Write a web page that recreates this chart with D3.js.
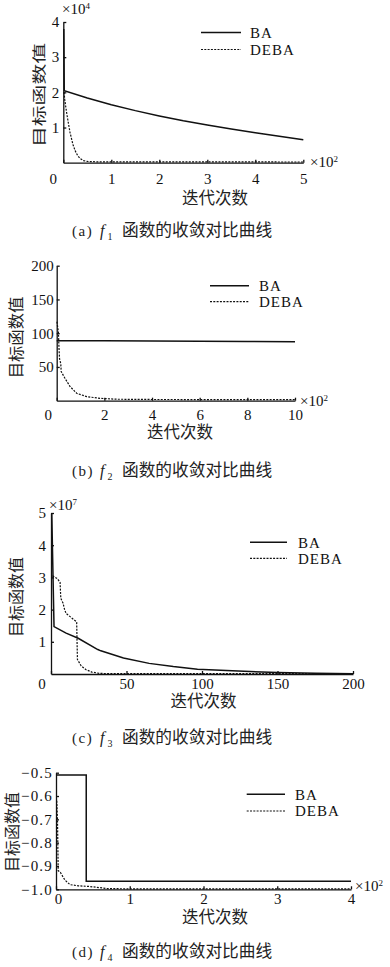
<!DOCTYPE html>
<html>
<head>
<meta charset="utf-8">
<script src="https://cdn.jsdelivr.net/npm/d3@7"></script>
<style>
  body { margin: 0; background: #fff; }
  svg { display: block; }
</style>
</head>
<body>
<svg id="chart" width="390" height="967"></svg>
<script>
// ---- data ----
// (a) f1, x in ×10^2 iterations, y in ×10^4
const f1XTicks = [0, 1, 2, 3, 4, 5];
const f1YTicks = [1, 2, 3, 4];
const f1BA = [[0.01, 3.8], [0.02, 2.05], [0.5, 1.84], [1, 1.65], [1.5, 1.48], [2, 1.33], [2.5, 1.19],
  [3, 1.07], [3.5, 0.96], [4, 0.85], [4.5, 0.75], [5, 0.65]];
const f1DEBA = [[0.015, 2.0], [0.03, 1.8], [0.05, 1.6], [0.07, 1.42], [0.1, 1.17], [0.14, 0.86],
  [0.2, 0.52], [0.25, 0.33], [0.3, 0.2], [0.35, 0.12], [0.42, 0.06], [0.5, 0.035], [0.7, 0.025], [5, 0.02]];

// (b) f2, x in ×10^2
const f2XTicks = [0, 2, 4, 6, 8, 10];
const f2YTicks = [50, 100, 150, 200];
const f2BA = [[0, 89], [2, 88.7], [4, 88.3], [6, 88], [8, 87.6], [10, 87.3]];
const f2DEBA = [[0.01, 117], [0.07, 102], [0.1, 75], [0.12, 62], [0.17, 55], [0.19, 43], [0.35, 33],
  [0.56, 21], [0.84, 11], [1.26, 6], [1.82, 3.5], [2.5, 2.2], [4, 1.8], [10, 1.5]];

// (c) f3, y in ×10^7
const f3XTicks = [0, 50, 100, 150, 200];
const f3YTicks = [1, 2, 3, 4, 5];
const f3BA = [[0.5, 5.0], [2, 1.47], [10, 1.27], [18, 1.11], [31, 0.76], [33, 0.72], [48, 0.5],
  [65, 0.33], [81, 0.23], [97, 0.15], [120, 0.1], [150, 0.045], [175, 0.02], [200, 0.01]];
const f3DEBA = [[1, 3.05], [4, 2.97], [6, 2.85], [6.5, 2.35], [8, 2.2], [9, 2.0], [10, 1.88],
  [17, 1.62], [17.5, 0.45], [20, 0.25], [23, 0.14], [27, 0.06], [32, 0.02], [40, 0.01], [200, 0.01]];

// (d) f4, x in ×10^2
const f4XTicks = [0, 1, 2, 3, 4];
const f4YTicks = [-0.5, -0.6, -0.7, -0.8, -0.9, -1.0];
const f4BA = [[0, -0.51], [0.41, -0.51], [0.41, -0.966], [4, -0.965]];
const f4DEBA = [[0.01, -0.62], [0.02, -0.7], [0.03, -0.92], [0.06, -0.928], [0.12, -0.96],
  [0.19, -0.98], [0.3, -0.985], [0.46, -0.988], [0.7, -0.997], [1, -0.998], [4, -0.998]];

const seriesNames = ['BA', 'DEBA'];
const captionText = '函数的收敛对比曲线';
const xTitle = '迭代次数';
const yTitle = '目标函数值';

const SERIF = '"Liberation Serif", "DejaVu Serif", serif';
const CJK = '"Noto Sans CJK SC", sans-serif';
const INK = '#111';

const svg = d3.select('#chart');

function panel(p) {
  const x = d3.scaleLinear().domain(p.xDomain).range(p.xRange);
  const y = d3.scaleLinear().domain(p.yDomain).range(p.yRange);
  const g = svg.append('g');

  // axes: left + bottom only, small inward ticks
  const ya = g.append('g')
    .attr('transform', `translate(${p.xRange[0]},0)`)
    .call(d3.axisLeft(y).tickValues(p.yTicks).tickFormat(p.yFmt)
      .tickSizeInner(-3).tickSizeOuter(0).tickPadding(p.yPad));
  const xa = g.append('g')
    .attr('transform', `translate(0,${p.yRange[0]})`)
    .call(d3.axisBottom(x).tickValues(p.xTicks).tickFormat(d3.format('d'))
      .tickSizeInner(-3).tickSizeOuter(0).tickPadding(0));

  [ya, xa].forEach(a => {
    a.attr('font-family', SERIF).attr('font-size', 15);
    a.selectAll('path, line').attr('stroke', INK).attr('stroke-width', 1.3);
    a.selectAll('text').attr('fill', INK);
  });
  ya.selectAll('text').attr('letter-spacing', p.yLabSpace || 0);
  xa.selectAll('text').attr('y', p.xLabOff).attr('dy', '0.35em')
    .attr('dx', d => (d === 0 ? p.zeroDx : 0));

  // series
  const line = d3.line().x(d => x(d[0])).y(d => y(d[1]));
  g.append('path').datum(p.ba).attr('d', line)
    .attr('fill', 'none').attr('stroke', INK).attr('stroke-width', 1.5);
  g.append('path').datum(p.deba).attr('d', line)
    .attr('fill', 'none').attr('stroke', INK).attr('stroke-width', 1.2)
    .attr('stroke-dasharray', '2,1.3');

  // legend
  const L = p.legend;
  seriesNames.forEach((name, i) => {
    const ly = L.y + i * L.gap;
    g.append('line').attr('x1', L.x1).attr('x2', L.x2).attr('y1', ly).attr('y2', ly)
      .attr('stroke', INK).attr('stroke-width', i ? 1.2 : 1.5)
      .attr('stroke-dasharray', i ? '2,1.3' : null);
    g.append('text').attr('x', L.tx).attr('y', ly).attr('dy', '0.35em')
      .attr('font-family', SERIF).attr('font-size', 15).attr('fill', INK)
      .attr('letter-spacing', 1).text(name);
  });

  // multipliers (×10^n)
  p.mult.forEach(m => {
    const t = g.append('text').attr('x', m.x).attr('y', m.y)
      .attr('font-family', SERIF).attr('font-size', 15).attr('fill', INK);
    t.append('tspan').text('×10');
    t.append('tspan').attr('dy', -5).attr('font-size', 9).text(m.exp);
  });

  // axis titles
  g.append('text').attr('x', p.xt[0]).attr('y', p.xt[1]).attr('dy', '0.35em')
    .attr('text-anchor', 'middle').attr('font-family', CJK).attr('font-size', 16.5)
    .attr('fill', '#222').text(xTitle);
  g.append('text')
    .attr('transform', `translate(${p.yt[0]},${p.yt[1]}) rotate(-90) scale(${p.ytScale[0]},${p.ytScale[1]})`)
    .attr('dy', '0.35em').attr('text-anchor', 'middle')
    .attr('font-family', CJK).attr('font-size', 16).attr('fill', '#222')
    .text(yTitle);

  // caption
  const c = g.append('text').attr('y', p.cap).attr('dy', '0.35em').attr('fill', '#222');
  c.append('tspan').attr('x', 72).attr('font-family', SERIF).attr('font-size', 15)
    .attr('letter-spacing', 1.5).text(`(${p.letter})`);
  c.append('tspan').attr('x', 100).attr('font-family', SERIF).attr('font-style', 'italic')
    .attr('font-size', 16).text('f');
  c.append('tspan').attr('x', 107.5).attr('dy', 4).attr('font-family', SERIF)
    .attr('font-size', 10).text(p.idx);
  c.append('tspan').attr('x', 122).attr('dy', -4).attr('font-family', CJK)
    .attr('font-size', 16.7).text(captionText);
}

panel({
  letter: 'a', idx: '1', ba: f1BA, deba: f1DEBA,
  xDomain: [0, 5], xRange: [63.3, 303.3], yDomain: [0, 4], yRange: [162.7, 22],
  xTicks: f1XTicks, yTicks: f1YTicks, yFmt: d3.format('d'), yPad: 4,
  xLabOff: 16.5, zeroDx: -10.5,
  legend: { x1: 201, x2: 241, tx: 250, y: 32.5, gap: 17 },
  mult: [{ x: 62, y: 14, exp: '4' }, { x: 310, y: 167, exp: '2' }],
  xt: [215, 198.5], yt: [39, 95], ytScale: [1.3, 0.88], cap: 230
});

panel({
  letter: 'b', idx: '2', ba: f2BA, deba: f2DEBA,
  xDomain: [0, 10], xRange: [56.7, 295], yDomain: [0, 200], yRange: [400.7, 265.7],
  xTicks: f2XTicks, yTicks: f2YTicks, yFmt: d3.format('d'), yPad: 3,
  xLabOff: 14, zeroDx: -9,
  legend: { x1: 210, x2: 249, tx: 259, y: 285.7, gap: 16 },
  mult: [{ x: 300, y: 405.5, exp: '2' }],
  xt: [180, 432.5], yt: [16.7, 337.5], ytScale: [1.02, 1], cap: 470.7
});

panel({
  letter: 'c', idx: '3', ba: f3BA, deba: f3DEBA,
  xDomain: [0, 200], xRange: [51, 353], yDomain: [0, 5], yRange: [674, 513],
  xTicks: f3XTicks, yTicks: f3YTicks, yFmt: d3.format('d'), yPad: 5,
  xLabOff: 10, zeroDx: -9.5,
  legend: { x1: 250, x2: 287, tx: 298, y: 542.3, gap: 16 },
  mult: [{ x: 49, y: 510, exp: '7' }],
  xt: [203.5, 701], yt: [16.7, 597], ytScale: [1, 1], cap: 737.7
});

panel({
  letter: 'd', idx: '4', ba: f4BA, deba: f4DEBA,
  xDomain: [0, 4], xRange: [56, 351], yDomain: [-1, -0.5], yRange: [889.3, 772.7],
  xTicks: f4XTicks, yTicks: f4YTicks, yFmt: d => d3.format('.1f')(d).replace('-', '−'), yPad: 3,
  yLabSpace: 1.2,
  xLabOff: 9.5, zeroDx: 2,
  legend: { x1: 246.7, x2: 285, tx: 295, y: 794.3, gap: 16.7 },
  mult: [{ x: 355, y: 891, exp: '2' }],
  xt: [215, 917], yt: [12.5, 832], ytScale: [1, 1], cap: 951.7
});
</script>
</body>
</html>
